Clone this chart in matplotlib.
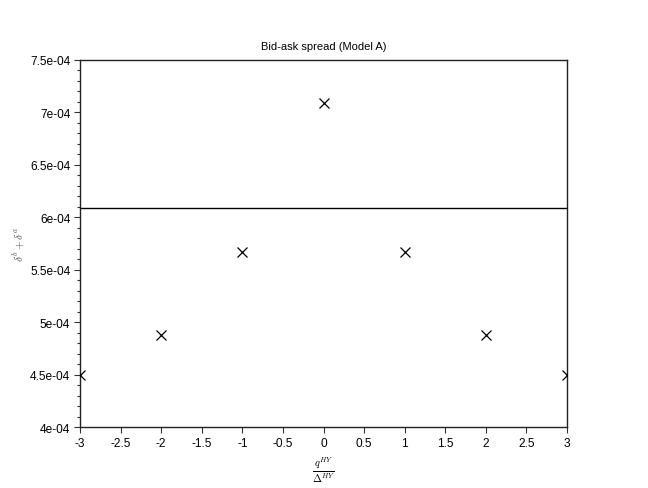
import matplotlib
matplotlib.use("Agg")
import matplotlib.pyplot as plt
from matplotlib.ticker import MultipleLocator, FuncFormatter

plt.rcParams['font.family'] = ['Liberation Sans', 'DejaVu Sans']
plt.rcParams['mathtext.fontset'] = 'cm'

# inventory levels and spreads
q_levels = [-3, -2, -1, 0, 1, 2, 3]
spread = [4.496e-4, 4.877e-4, 5.669e-4, 7.09e-4, 5.669e-4, 4.877e-4, 4.496e-4]
mean_spread = 6.089e-4


def sci_label(v, pos):
    if abs(v) < 1e-12:
        return "0"
    s = "%.1e" % v
    mant, exp = s.split("e")
    mant = mant.rstrip("0").rstrip(".")
    sign = exp[0]
    digits = exp[1:].zfill(2)
    return "%se%s%s" % (mant, sign, digits)


def x_label(v, pos):
    if abs(v - round(v)) < 1e-9:
        return "%d" % round(v)
    return "%g" % v


fig = plt.figure(figsize=(6.48, 4.89), dpi=100)
ax = fig.add_axes([0.1235, 0.1247, 0.7515, 0.7506])

ax.plot(q_levels, spread, linestyle="none", marker="x", color="black",
        markersize=7, markeredgewidth=0.9, zorder=3)
ax.axhline(mean_spread, color="black", linewidth=1.0)

ax.set_xlim(-3, 3)
ax.set_ylim(4e-4, 7.5e-4)

ax.xaxis.set_major_locator(MultipleLocator(0.5))
ax.xaxis.set_major_formatter(FuncFormatter(x_label))
ax.yaxis.set_major_locator(MultipleLocator(0.5e-4))
ax.yaxis.set_minor_locator(MultipleLocator(0.1e-4))
ax.yaxis.set_major_formatter(FuncFormatter(sci_label))

ax.tick_params(axis="both", which="major", direction="out", length=4,
               width=0.8, labelsize=8.6, pad=3, color="#333333")
ax.tick_params(axis="y", which="minor", direction="out", length=2.5,
               width=0.8, color="#333333")

for sp in ax.spines.values():
    sp.set_linewidth(1.0)
    sp.set_color("#222222")

ax.set_title("Bid-ask spread (Model A)", fontsize=8, pad=8)
ax.set_ylabel(r"$\delta^b + \delta^a$", fontsize=8, labelpad=2, color="#555555")
ax.set_xlabel(r"$\frac{q^{HY}}{\Delta^{HY}}$", fontsize=11, labelpad=4)

fig.savefig("out.png", dpi=100)
